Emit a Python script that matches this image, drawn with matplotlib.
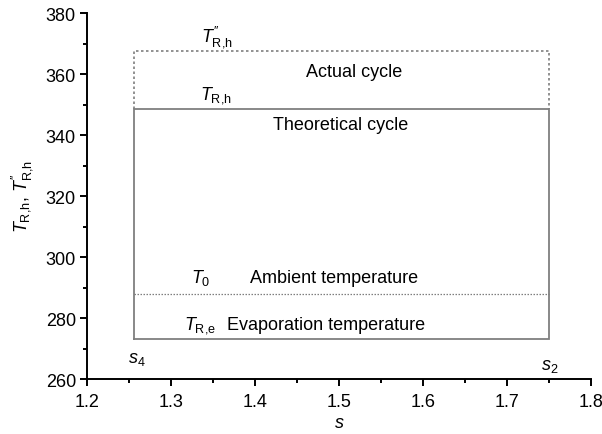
import matplotlib
matplotlib.use("Agg")
import matplotlib.pyplot as plt
from matplotlib.ticker import MultipleLocator

plt.rcParams['font.family'] = ['Liberation Sans', 'DejaVu Sans']
plt.rcParams['mathtext.fontset'] = 'custom'
plt.rcParams['mathtext.rm'] = 'Liberation Sans'
plt.rcParams['mathtext.it'] = 'Liberation Sans:italic'
plt.rcParams['mathtext.bf'] = 'Liberation Sans:bold'

# Data
s_bounds = [1.256, 1.750]          # s4, s2
T_R_e = 273.0                      # evaporation temperature
T_0 = 288.0                        # ambient temperature
T_R_h = 348.5                      # theoretical condensation temperature
T_R_h_actual = 367.5               # actual condensation temperature

fig = plt.figure(figsize=(6.02, 4.35), dpi=100)
ax = fig.add_axes([0.1445, 0.1264, 0.8372, 0.8414])

gray = '#7f7f7f'
s4, s2 = s_bounds
# theoretical cycle (solid)
ax.plot([s4, s4, s2, s2, s4], [T_R_e, T_R_h, T_R_h, T_R_e, T_R_e],
        color=gray, lw=1.3, solid_joinstyle='miter')
# actual cycle (dotted extension)
ax.plot([s4, s4, s2, s2], [T_R_h, T_R_h_actual, T_R_h_actual, T_R_h],
        color=gray, lw=1.2, ls=(0, (1.5, 1.5)))
# ambient temperature
ax.plot([s4, s2], [T_0, T_0], color=gray, lw=0.9, ls=(0, (1.2, 1.2)))

TRH2 = r"$T^{\prime\prime}_{\mathrm{R{,}h}}$"
TRH = r"$T_{\mathrm{R{,}h}}$"
TRE = r"$T_{\mathrm{R{,}e}}$"

fs = 13
ax.text(1.355, 372.6, TRH2, fontsize=fs, ha='center', va='center')
ax.text(1.518, 360.7, 'Actual cycle', fontsize=fs, ha='center', va='center')
ax.text(1.354, 353.4, TRH, fontsize=fs, ha='center', va='center')
ax.text(1.502, 343.6, 'Theoretical cycle', fontsize=fs, ha='center', va='center')
ax.text(1.336, 293.4, r"$T_0$", fontsize=fs, ha='center', va='center')
ax.text(1.494, 293.4, 'Ambient temperature', fontsize=fs, ha='center', va='center')
ax.text(1.334, 278.0, TRE, fontsize=fs, ha='center', va='center')
ax.text(1.4845, 278.0, 'Evaporation temperature', fontsize=fs, ha='center', va='center')
ax.text(1.2595, 266.6, r"$s_4$", fontsize=fs, ha='center', va='center')
ax.text(1.751, 264.5, r"$s_2$", fontsize=fs, ha='center', va='center')

ax.set_xlim(1.2, 1.8)
ax.set_ylim(260, 380)
ax.xaxis.set_major_locator(MultipleLocator(0.1))
ax.xaxis.set_minor_locator(MultipleLocator(0.05))
ax.yaxis.set_major_locator(MultipleLocator(20))
ax.yaxis.set_minor_locator(MultipleLocator(10))

for sp in ['top', 'right']:
    ax.spines[sp].set_visible(False)
for sp in ['left', 'bottom']:
    ax.spines[sp].set_linewidth(1.4)
ax.tick_params(which='major', direction='out', length=5, width=1.4, labelsize=fs)
ax.tick_params(axis='x', which='major', pad=5)
ax.tick_params(axis='y', which='major', pad=3)
ax.tick_params(which='minor', direction='out', length=3, width=1.4)

ax.set_xlabel(r"$s$", fontsize=fs, labelpad=3)
ax.set_ylabel(TRH + ", " + TRH2, fontsize=fs, labelpad=8)

fig.savefig('out.png', dpi=100)
